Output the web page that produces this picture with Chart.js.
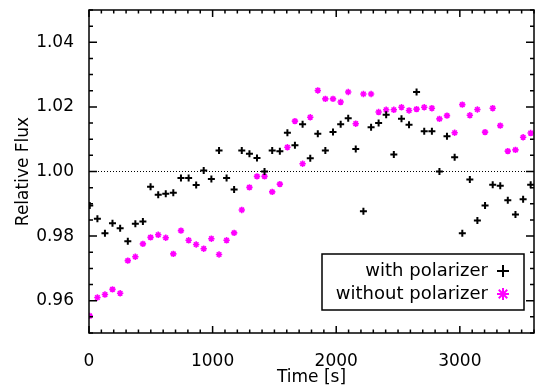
<!DOCTYPE html>
<html>
<head>
<meta charset="utf-8">
<script src="https://cdn.jsdelivr.net/npm/chart.js@4.4.0/dist/chart.umd.min.js"></script>
<style>
    html, body { margin: 0; padding: 0; background: #fff; }
</style>
</head>
<body>
<canvas id="grafica" width="535" height="387"></canvas>
<script>
// tiempos de cada exposicion [s]
const tiempos = [6, 68, 129, 190, 252, 314, 375, 436, 498, 560, 621, 682, 744, 806, 867, 928, 990, 1052, 1113, 1174,
    1236, 1298, 1359, 1420, 1482, 1544, 1605, 1666, 1728, 1790, 1851, 1912, 1974, 2036, 2097, 2158, 2220, 2282, 2343, 2404,
    2466, 2528, 2589, 2650, 2712, 2774, 2835, 2896, 2958, 3020, 3081, 3142, 3204, 3266, 3327, 3388, 3450, 3512, 3573];

const fluxCon = [0.9895, 0.9854, 0.9809, 0.9840, 0.9824, 0.9784, 0.9838, 0.9845, 0.9953, 0.9928, 0.9931, 0.9934, 0.9980, 0.9980, 0.9958, 1.0003, 0.9977, 1.0065, 0.9980, 0.9944,
    1.0065, 1.0055, 1.0042, 1.0000, 1.0065, 1.0063, 1.0120, 1.0081, 1.0146, 1.0041, 1.0117, 1.0065, 1.0122, 1.0146, 1.0165, 1.0070, 0.9877, 1.0137, 1.0150, 1.0176,
    1.0053, 1.0163, 1.0145, 1.0246, 1.0125, 1.0125, 1.0000, 1.0109, 1.0044, 0.9809, 0.9975, 0.9848, 0.9895, 0.9959, 0.9956, 0.9911, 0.9867, 0.9914, 0.9959];

const fluxSin = [0.9553, 0.9610, 0.9619, 0.9635, 0.9623, 0.9724, 0.9736, 0.9776, 0.9796, 0.9804, 0.9795, 0.9745, 0.9817, 0.9787, 0.9774, 0.9761, 0.9792, 0.9743, 0.9787, 0.9810,
    0.9881, 0.9951, 0.9985, 0.9985, 0.9937, 0.9961, 1.0075, 1.0156, 1.0024, 1.0168, 1.0251, 1.0225, 1.0225, 1.0215, 1.0246, 1.0148, 1.0240, 1.0240, 1.0184, 1.0191,
    1.0191, 1.0199, 1.0189, 1.0193, 1.0199, 1.0196, 1.0163, 1.0173, 1.0120, 1.0207, 1.0174, 1.0192, 1.0122, 1.0196, 1.0142, 1.0063, 1.0067, 1.0106, 1.0119];

const series = ['with polarizer', 'without polarizer'];
const ticksX = [0, 1000, 2000, 3000];
const ticksY = [0.96, 0.98, 1.00, 1.02, 1.04];
const rangoX = [0, 3600];
const rangoY = [0.95, 1.05];
const referencia = 1.00;

const fuente = "'DejaVu Sans', sans-serif";
const magenta = '#ff00ff';

// marco con marcas hacia adentro en los cuatro lados
const marco = {
    id: 'marco',
    afterDraw(chart) {
        const { ctx, chartArea: a, scales: { x, y } } = chart;
        ctx.save();
        ctx.strokeStyle = '#000';
        ctx.lineWidth = 1.5;
        ctx.strokeRect(a.left, a.top, a.right - a.left, a.bottom - a.top);
        ctx.beginPath();
        for (let k = 0; k <= 36; k++) {
            const px = x.getPixelForValue(k * 100);
            const L = k % 10 === 0 ? 7 : 3.5;
            ctx.moveTo(px, a.bottom); ctx.lineTo(px, a.bottom - L);
            ctx.moveTo(px, a.top); ctx.lineTo(px, a.top + L);
        }
        for (let k = 0; k <= 20; k++) {
            const py = y.getPixelForValue(rangoY[0] + k * 0.005);
            const L = k % 4 === 2 ? 8 : 4;
            ctx.moveTo(a.left, py); ctx.lineTo(a.left + L, py);
            ctx.moveTo(a.right, py); ctx.lineTo(a.right - L, py);
        }
        ctx.stroke();

        // leyenda
        const w = 202, h = 56;
        const bx = a.right - 10 - w, by = a.bottom - 23 - h;
        ctx.fillStyle = '#fff';
        ctx.fillRect(bx, by, w, h);
        ctx.lineWidth = 1.5;
        ctx.strokeRect(bx, by, w, h);
        ctx.font = '18px ' + fuente;
        ctx.textAlign = 'right';
        ctx.textBaseline = 'middle';
        const estilos = [
            { color: '#000', pointStyle: 'cross' },
            { color: magenta, pointStyle: 'star' }
        ];
        series.forEach((s, i) => {
            const ly = by + 17 + i * 23;
            ctx.fillStyle = '#000';
            ctx.fillText(s, bx + w - 36, ly);
            ctx.strokeStyle = estilos[i].color;
            ctx.fillStyle = estilos[i].color;
            ctx.lineWidth = 2;
            Chart.helpers.drawPoint(ctx, { pointStyle: estilos[i].pointStyle, radius: 6, rotation: 0, borderWidth: 2 }, bx + w - 21, ly);
        });
        ctx.restore();
    }
};

const ctx = document.getElementById('grafica').getContext('2d');

new Chart(ctx, {
    type: 'scatter',
    data: {
        datasets: [
            {
                label: series[0],
                data: tiempos.map((t, i) => ({ x: t, y: fluxCon[i] })),
                pointStyle: 'cross',
                pointRadius: 3.5,
                pointBorderWidth: 2,
                pointBorderColor: '#000',
                pointBackgroundColor: '#000'
            },
            {
                label: series[1],
                data: tiempos.map((t, i) => ({ x: t, y: fluxSin[i] })),
                pointStyle: 'star',
                pointRadius: 3.2,
                pointBorderWidth: 1.6,
                pointBorderColor: magenta,
                pointBackgroundColor: magenta
            },
            {
                label: 'ref',
                data: [{ x: rangoX[0], y: referencia }, { x: rangoX[1], y: referencia }],
                showLine: true,
                borderColor: '#000',
                borderWidth: 1,
                borderDash: [1, 2],
                pointRadius: 0
            }
        ]
    },
    options: {
        responsive: false,
        animation: false,
        devicePixelRatio: 1,
        layout: { autoPadding: false, padding: { top: 10, right: 1, left: 0, bottom: 0 } },
        plugins: { legend: { display: false }, tooltip: { enabled: false } },
        scales: {
            x: {
                type: 'linear',
                min: rangoX[0],
                max: rangoX[1],
                afterBuildTicks: s => { s.ticks = ticksX.map(v => ({ value: v })); },
                afterFit: s => { s.height = 54; s.paddingRight = 0; s.paddingLeft = 0; },
                grid: { display: false },
                border: { display: false },
                ticks: {
                    color: '#000', padding: 10, maxRotation: 0, autoSkip: false,
                    font: { family: fuente, size: 17 },
                    callback: v => String(v)
                },
                title: {
                    display: true, text: 'Time [s]', color: '#000',
                    font: { family: fuente, size: 17 },
                    padding: { top: 0, bottom: -1 }
                }
            },
            y: {
                type: 'linear',
                min: rangoY[0],
                max: rangoY[1],
                afterBuildTicks: s => { s.ticks = ticksY.map(v => ({ value: v })); },
                afterFit: s => { s.width = 89; s.paddingTop = 0; s.paddingBottom = 0; },
                grid: { display: false },
                border: { display: false },
                ticks: {
                    color: '#000', padding: 7, autoSkip: false,
                    font: { family: fuente, size: 17 },
                    callback: v => v.toFixed(2)
                },
                title: {
                    display: true, text: 'Relative Flux', color: '#000',
                    font: { family: fuente, size: 17 },
                    padding: { top: 13, bottom: 0 }
                }
            }
        }
    },
    plugins: [marco]
});
</script>
</body>
</html>
